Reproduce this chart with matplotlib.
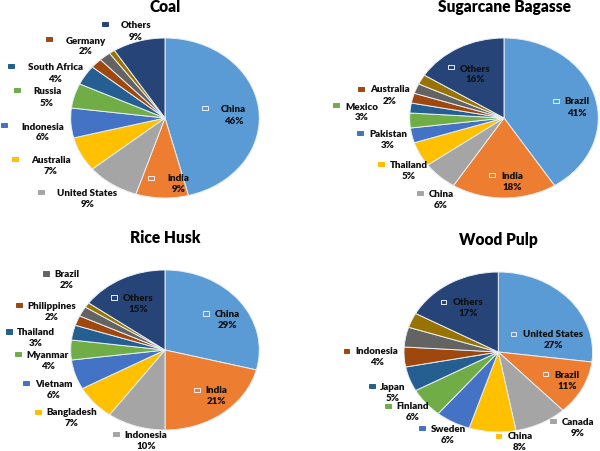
import matplotlib
matplotlib.use("Agg")
import matplotlib.pyplot as plt
from matplotlib.patches import Rectangle

plt.rcParams["font.family"] = ["Lato", "DejaVu Sans"]

colors = ["#5B9BD5", "#ED7D31", "#A5A5A5", "#FFC000", "#4472C4", "#70AD47",
          "#255E91", "#9E480E", "#636363", "#997300", "#264478"]

# slices without a name have no label in the picture
coal_names = ["China", "India", "United States", "Australia", "Indonesia", "Russia",
              "South Africa", "Germany", "", "", "Others"]
coal_values = [46, 9, 9, 7, 6, 5, 4, 2, 2, 1, 9]

bagasse_names = ["Brazil", "India", "China", "Thailand", "Pakistan", "Mexico",
                 "", "Australia", "", "", "Others"]
bagasse_values = [41, 18, 6, 5, 3, 3, 2, 2, 2, 2, 16]

husk_names = ["China", "India", "Indonesia", "Bangladesh", "Vietnam", "Myanmar",
              "Thailand", "Philippines", "Brazil", "", "Others"]
husk_values = [29, 21, 10, 7, 6, 4, 3, 2, 2, 1, 15]

pulp_names = ["United States", "Brazil", "Canada", "China", "Sweden", "Finland",
              "Japan", "Indonesia", "", "", "Others"]
pulp_values = [27, 11, 9, 8, 6, 6, 5, 4, 4, 3, 17]

# label layout in pixels: key x, key y, text x, text y (first line)
coal_pos = [(205, 109, 233.5, 110), (151, 179, 178.5, 179), (41, 193, 87.5, 194),
            (15, 160, 51, 161), (4, 126, 42.5, 127), (17, 91, 47, 92),
            (11, 67, 55, 68), (49, 40, 85.5, 41), None, None, (105, 25, 136, 26)]
bagasse_pos = [(556, 102, 577, 102), (492, 176, 512, 177), (420, 194, 441, 195),
               (381, 165, 409, 166), (360, 134, 388, 135), (336, 106, 362, 107),
               None, (361, 90, 390, 90), None, None, (451, 68, 475, 69)]
husk_pos = [(206, 314.5, 227, 315), (197, 391, 216, 391), (116, 435, 146, 436),
            (38, 413, 72, 413), (26, 384, 54, 385), (18, 355, 48, 356),
            (9, 332.5, 36, 333), (19, 306, 52, 307), (46, 274.5, 67, 275), None,
            (114, 298.5, 138, 299)]
pulp_pos = [(513.5, 335, 553, 335), (545.5, 375, 567, 376), (553, 422, 578, 423),
            (498.5, 437, 520, 437), (422, 429, 448, 430), (388, 407, 413, 407),
            (372, 387, 393, 388), (346.5, 352, 377, 352), None, None,
            (443.5, 303, 468, 303)]

W, H = 600, 452
fig = plt.figure(figsize=(W / 100, H / 100), dpi=100, facecolor="white")

# overlay in pixel coordinates for titles and labels
overlay = fig.add_axes([0, 0, 1, 1], zorder=5)
overlay.set_xlim(0, W)
overlay.set_ylim(H, 0)
overlay.axis("off")


def zeichne_torte(titel, titel_xy, namen, werte, pos, cx, cy):
    rx, ry = 94.3, 80
    ax = fig.add_axes([(cx - rx) / W, 1 - (cy + ry) / H, 2 * rx / W, 2 * ry / H])
    ax.pie(werte, colors=colors, startangle=90, counterclock=False,
           wedgeprops={"edgecolor": "#E8EEF4", "linewidth": 0.7})
    ax.set_aspect("auto")
    ax.set_xlim(-1, 1)
    ax.set_ylim(-1, 1)

    overlay.text(titel_xy[0], titel_xy[1], titel, ha="center", va="center",
                 fontsize=11.2, fontweight="heavy", color="#000000")

    for i, name in enumerate(namen):
        if pos[i] is None:
            continue
        kx, ky, tx, ty = pos[i]
        # keys on top of a slice are hollow, outside they are filled
        innen = ((kx - cx) / rx) ** 2 + ((ky - cy) / ry) ** 2 < 1
        overlay.add_patch(Rectangle((kx - 2.8, ky - 2.4), 5.6, 4.8,
                                    facecolor="none" if innen else colors[i],
                                    edgecolor="#E8EEF4" if innen else colors[i],
                                    linewidth=0.7))
        overlay.text(tx, ty, name, ha="center", va="center", fontsize=7,
                     fontweight="heavy", color="#111111")
        overlay.text(tx, ty + 11, f"{werte[i]}%", ha="center", va="center", fontsize=7,
                     fontweight="heavy", color="#111111")


zeichne_torte("Coal", (165, 7), coal_names, coal_values, coal_pos, 165, 119)
zeichne_torte("Sugarcane Bagasse", (504, 6.7), bagasse_names, bagasse_values, bagasse_pos, 504, 119)
zeichne_torte("Rice Husk", (165, 238.5), husk_names, husk_values, husk_pos, 165, 351)
zeichne_torte("Wood Pulp", (498, 240.5), pulp_names, pulp_values, pulp_pos, 498.3, 353)

fig.savefig("out.png", dpi=100)
